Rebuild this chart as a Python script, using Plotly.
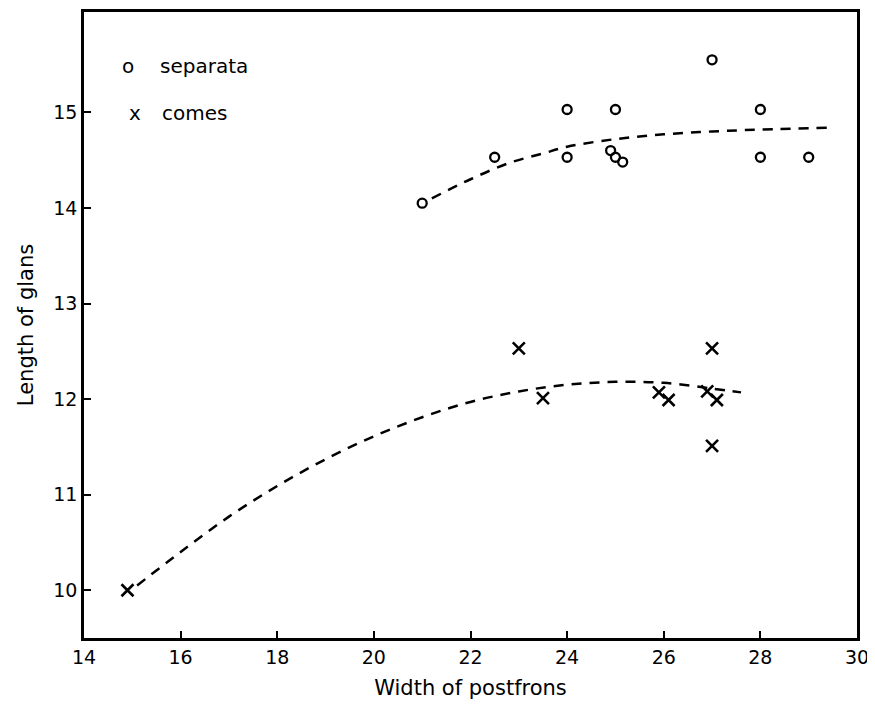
import plotly.graph_objects as go

# separata (open circles)
sep_x = [21.0, 22.5, 24.0, 24.0, 25.0, 24.9, 25.0, 25.15, 27.0, 28.0, 28.0, 29.0]
sep_y = [14.05, 14.53, 15.03, 14.53, 15.03, 14.6, 14.53, 14.48, 15.55, 15.03, 14.53, 14.53]

# comes (crosses)
com_x = [14.9, 23.0, 23.5, 25.9, 26.1, 27.0, 26.9, 27.1, 27.0]
com_y = [10.0, 12.53, 12.01, 12.07, 11.99, 12.53, 12.08, 11.99, 11.51]

# fitted dashed curves
sep_fit_x = [21.2, 22.0, 22.8, 23.5, 24.0, 25.0, 26.0, 27.0, 28.0, 29.4]
sep_fit_y = [14.1, 14.3, 14.47, 14.57, 14.64, 14.72, 14.77, 14.8, 14.82, 14.84]

com_fit_x = [15.1, 16.0, 17.0, 18.0, 19.0, 20.0, 21.0, 22.0, 23.0, 24.0, 25.0, 26.0, 27.0, 27.6]
com_fit_y = [10.05, 10.4, 10.77, 11.09, 11.37, 11.61, 11.81, 11.97, 12.08, 12.15, 12.18, 12.17, 12.11, 12.07]

x_ticks = [14, 16, 18, 20, 22, 24, 26, 28, 30]
y_ticks = [10, 11, 12, 13, 14, 15]

FONT = "DejaVu Sans"

fig = go.Figure()
fig.add_trace(go.Scatter(x=sep_fit_x, y=sep_fit_y, mode="lines", line=dict(color="black", width=2.5, dash="10px,8px"),
                         line_shape="spline", showlegend=False, hoverinfo="skip"))
fig.add_trace(go.Scatter(x=com_fit_x, y=com_fit_y, mode="lines", line=dict(color="black", width=2.5, dash="10px,8px"),
                         line_shape="spline", showlegend=False, hoverinfo="skip"))
fig.add_trace(go.Scatter(x=sep_x, y=sep_y, mode="markers", name="separata",
                         marker=dict(symbol="circle-open", size=9, color="black", line=dict(width=2.3, color="black")),
                         showlegend=False))
fig.add_trace(go.Scatter(x=com_x, y=com_y, mode="markers", name="comes",
                         marker=dict(symbol="x-thin-open", size=12, color="black", line=dict(width=2.6, color="black")),
                         showlegend=False))

leg_font = dict(family=FONT, size=20, color="black")
fig.add_annotation(x=0.057, y=0.914, xref="paper", yref="paper", xanchor="center", yanchor="middle",
                   text="o", showarrow=False, font=leg_font)
fig.add_annotation(x=0.0957, y=0.914, xref="paper", yref="paper", xanchor="left", yanchor="middle",
                   text="separata", showarrow=False, font=leg_font)
fig.add_annotation(x=0.066, y=0.839, xref="paper", yref="paper", xanchor="center", yanchor="middle",
                   text="x", showarrow=False, font=leg_font)
fig.add_annotation(x=0.098, y=0.839, xref="paper", yref="paper", xanchor="left", yanchor="middle",
                   text="comes", showarrow=False, font=leg_font)

# page body has an 8px margin, so the figure is sized to fit inside the 875x716 window
fig.update_layout(
    width=867, height=708,
    margin=dict(l=76, r=18, t=1, b=78),
    paper_bgcolor="white", plot_bgcolor="white",
    font=dict(family=FONT, size=19, color="black"),
    showlegend=False,
)
fig.update_xaxes(range=[14, 30], tickvals=x_ticks, ticktext=[str(t) for t in x_ticks],
                 showgrid=False, zeroline=False, showline=True, linecolor="black", linewidth=2.5, mirror=True,
                 ticks="inside", ticklen=7, tickwidth=1.5, tickcolor="black",
                 title=dict(text="Width of postfrons", font=dict(size=21), standoff=14))
fig.update_yaxes(range=[9.5, 16.05], tickvals=y_ticks, ticktext=[str(t) for t in y_ticks],
                 showgrid=False, zeroline=False, showline=True, linecolor="black", linewidth=2.5, mirror=True,
                 ticks="inside", ticklen=7, tickwidth=1.5, tickcolor="black",
                 title=dict(text="Length of glans", font=dict(size=21), standoff=14))

fig.write_html("out.html")
